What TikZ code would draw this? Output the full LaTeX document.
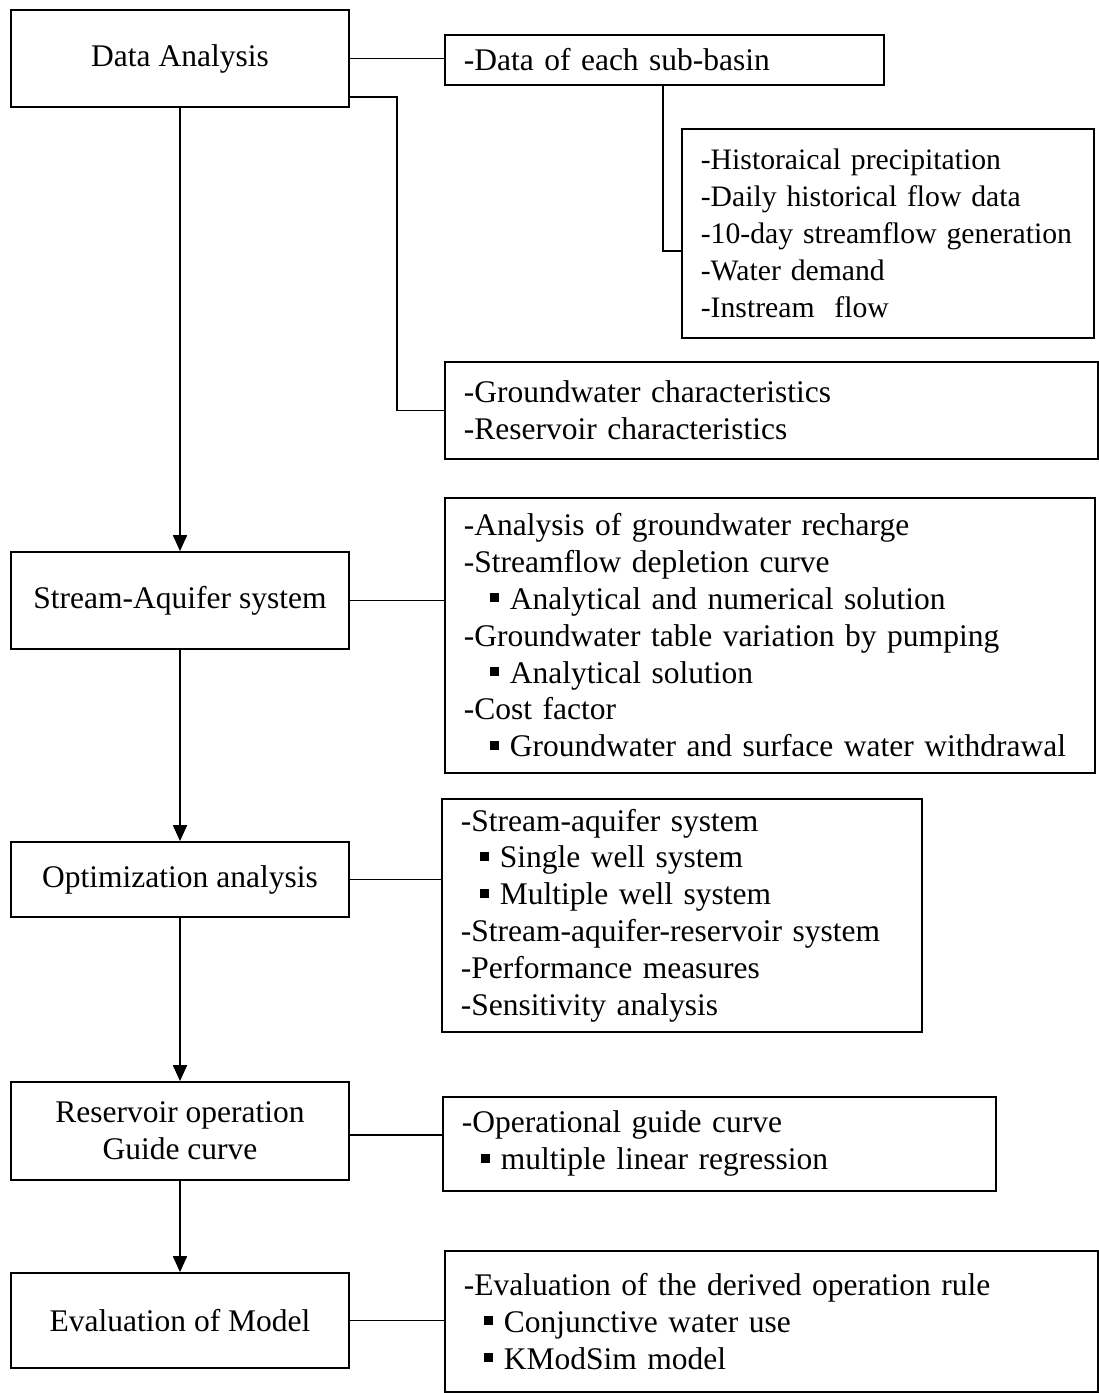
\documentclass[tikz,border=0pt]{standalone}
\usepackage{fontspec}
\setmainfont{Liberation Serif}
\usetikzlibrary{arrows.meta}
\newcommand\bul[1]{\hspace*{#1}\rule[7pt]{9pt}{9pt}\hspace{11pt}}
\begin{document}
\begin{tikzpicture}[x=1pt,y=-1pt,
  every node/.style={font=\fontsize{31.5}{36.8}\selectfont},
  lbox/.style={draw, line width=1.7pt, align=center, inner sep=0pt},
  rbox/.style={draw, line width=1.7pt, align=left, anchor=north west, inner xsep=19pt, inner ysep=0pt},
  link/.style={line width=1.6pt},
  flow/.style={line width=1.8pt, -{Triangle[length=16pt,width=14pt]}}]
\useasboundingbox (0,0) rectangle (1099,1393);

% left column
\node[lbox, minimum width=338pt, minimum height=97pt] (da) at (180,58.5) {Data Analysis};
\node[lbox, minimum width=338pt, minimum height=97pt] (sa) at (180,600.5) {Stream-Aquifer system};
\node[lbox, minimum width=338pt, minimum height=75pt] (op) at (180,879.5) {Optimization analysis};
\node[lbox, minimum width=338pt, minimum height=98pt] (ro) at (180,1131) {Reservoir operation\\Guide curve};
\node[lbox, minimum width=338pt, minimum height=95pt] (ev) at (180,1320.5) {Evaluation of Model};

% right column
\node[rbox, text width=401pt, minimum height=50pt] (sb) at (444,34) {-Data of each sub-basin};
\node[rbox, text width=374pt, minimum height=209pt, font=\fontsize{29.7}{36.8}\selectfont] (hi) at (681,128) {\mbox{-Historaical precipitation}\\\mbox{-Daily historical flow data}\\\mbox{-10-day streamflow generation}\\\mbox{-Water demand}\\\mbox{-Instream\ \ flow}};
\node[rbox, text width=615pt, minimum height=97pt] (gw) at (444,361) {-Groundwater characteristics\\-Reservoir characteristics};
\node[rbox, text width=612pt, minimum height=275pt] (sar) at (444,497) {-Analysis of groundwater recharge\\-Streamflow depletion curve\\\bul{26pt}Analytical and numerical solution\\-Groundwater table variation by pumping\\\bul{26pt}Analytical solution\\-Cost factor\\\bul{26pt}Groundwater and surface water withdrawal};
\node[rbox, text width=442pt, minimum height=233pt] (opr) at (441,798) {-Stream-aquifer system\\\bul{19pt}Single well system\\\bul{19pt}Multiple well system\\-Stream-aquifer-reservoir system\\-Performance measures\\-Sensitivity analysis};
\node[rbox, text width=515pt, minimum height=94pt] (og) at (442,1096) {-Operational guide curve\\\bul{19pt}multiple linear regression};
\node[rbox, text width=615pt, minimum height=141pt] (evr) at (444,1250) {-Evaluation of the derived operation rule\\\bul{20pt}Conjunctive water use\\\bul{20pt}KModSim model};

% connectors
\coordinate (k1) at (397,97);
\coordinate (k2) at (663,251);
\draw[link] (da.east) -- (da.east -| sb.west);
\draw[link] (da.east |- k1) -- (k1) |- (gw.west);
\draw[link] (sb.south -| k2) -- (k2) -- (k2 -| hi.west);
\draw[link] (sa.east) -- (sa.east -| sar.west);
\draw[link] (op.east) -- (op.east -| opr.west);
\draw[link] ([yshift=-4pt]ro.east) -- ([yshift=-4pt]ro.east -| og.west);
\draw[link] (ev.east) -- (ev.east -| evr.west);

% flow arrows
\draw[flow] (da.south) -- (da.south |- sa.north);
\draw[flow] (sa.south) -- (sa.south |- op.north);
\draw[flow] (op.south) -- (op.south |- ro.north);
\draw[flow] (ro.south) -- (ro.south |- ev.north);
\end{tikzpicture}
\end{document}
